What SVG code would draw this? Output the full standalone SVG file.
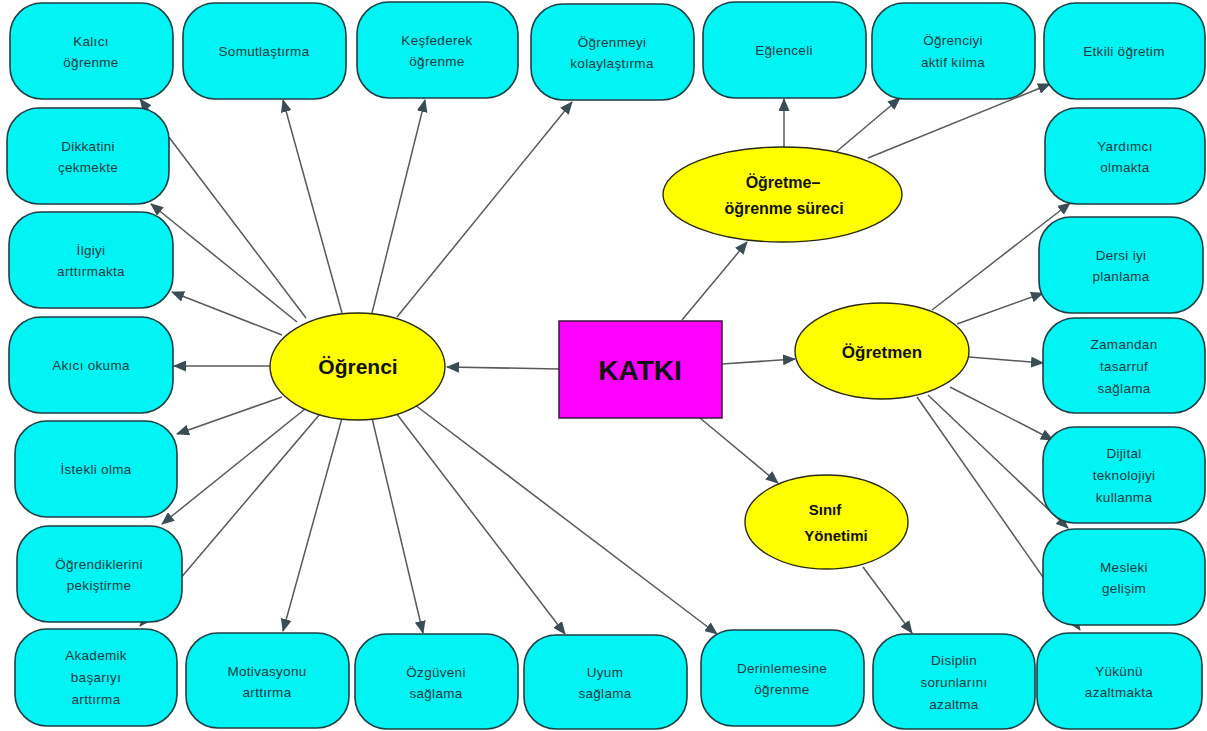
<svg xmlns="http://www.w3.org/2000/svg" width="1207" height="731" viewBox="0 0 1207 731">
<style>
.box{fill:#00f4f4;stroke:#1c3f44;stroke-width:1.6}
.ell{fill:#ffff00;stroke:#2a2a10;stroke-width:1.4}
.t{font-family:"Liberation Sans",Arial,sans-serif;font-size:13.5px;fill:#1f3c42;text-anchor:middle;letter-spacing:0.3px}
.b{font-family:"Liberation Sans",Arial,sans-serif;font-weight:bold;fill:#111;text-anchor:middle}
.c line{stroke:#555a5c;stroke-width:1.5;marker-end:url(#ah)}
</style>
<defs>
<marker id="ah" markerUnits="userSpaceOnUse" markerWidth="13" markerHeight="11" refX="12" refY="5.5" orient="auto">
<path d="M0,0 L13,5.5 L0,11 z" fill="#3a4d55"/>
</marker>
</defs>
<rect width="1207" height="731" fill="#ffffff"/>
<g id="connectors" class="c">
<line x1="559" y1="369" x2="447" y2="367"/>
<line x1="722" y1="364" x2="795" y2="359"/>
<line x1="682" y1="320" x2="747" y2="242"/>
<line x1="700" y1="418" x2="778" y2="483"/>
<line x1="784" y1="147" x2="784" y2="99"/>
<line x1="836" y1="152" x2="900" y2="98"/>
<line x1="868" y1="158" x2="1050" y2="84"/>
<line x1="932" y1="310" x2="1070" y2="203"/>
<line x1="957" y1="324" x2="1043" y2="293"/>
<line x1="969" y1="357" x2="1043" y2="363"/>
<line x1="950" y1="387" x2="1053" y2="440"/>
<line x1="928" y1="395" x2="1068" y2="528"/>
<line x1="917" y1="397" x2="1080" y2="630"/>
<line x1="863" y1="567" x2="912" y2="633"/>
<line x1="306" y1="318" x2="140" y2="99"/>
<line x1="342" y1="313" x2="283" y2="100"/>
<line x1="372" y1="313" x2="425" y2="100"/>
<line x1="397" y1="317" x2="572" y2="102"/>
<line x1="297" y1="322" x2="151" y2="204"/>
<line x1="282" y1="335" x2="172" y2="292"/>
<line x1="270" y1="366" x2="174" y2="366"/>
<line x1="282" y1="397" x2="177" y2="434"/>
<line x1="305" y1="409" x2="162" y2="524"/>
<line x1="320" y1="414" x2="140" y2="626"/>
<line x1="342" y1="418" x2="283" y2="631"/>
<line x1="372" y1="418" x2="423" y2="633"/>
<line x1="396" y1="413" x2="565" y2="634"/>
<line x1="415" y1="405" x2="717" y2="634"/>
</g>
<g id="n-kalici"><rect class="box" x="10" y="3" width="163" height="96" rx="32" ry="32"/><text class="t" x="91" y="46">Kalıcı</text><text class="t" x="91" y="67">öğrenme</text></g>
<g id="n-somut"><rect class="box" x="183" y="3" width="163" height="96" rx="32" ry="32"/><text class="t" x="264" y="56">Somutlaştırma</text></g>
<g id="n-kesf"><rect class="box" x="357" y="2" width="161" height="96" rx="32" ry="32"/><text class="t" x="437" y="45">Keşfederek</text><text class="t" x="437" y="66">öğrenme</text></g>
<g id="n-kolay"><rect class="box" x="531" y="4" width="163" height="96" rx="32" ry="32"/><text class="t" x="612" y="47">Öğrenmeyi</text><text class="t" x="612" y="68">kolaylaştırma</text></g>
<g id="n-eglence"><rect class="box" x="703" y="2" width="163" height="96" rx="32" ry="32"/><text class="t" x="784" y="55">Eğlenceli</text></g>
<g id="n-aktif"><rect class="box" x="872" y="3" width="163" height="96" rx="32" ry="32"/><text class="t" x="953" y="45">Öğrenciyi</text><text class="t" x="953" y="67">aktif kılma</text></g>
<g id="n-etkili"><rect class="box" x="1044" y="3" width="161" height="96" rx="32" ry="32"/><text class="t" x="1124" y="56">Etkili öğretim</text></g>
<g id="n-dikkat"><rect class="box" x="7" y="108" width="162" height="96" rx="32" ry="32"/><text class="t" x="88" y="151">Dikkatini</text><text class="t" x="88" y="172">çekmekte</text></g>
<g id="n-ilgi"><rect class="box" x="9" y="212" width="164" height="96" rx="32" ry="32"/><text class="t" x="91" y="255">İlgiyi</text><text class="t" x="91" y="276">arttırmakta</text></g>
<g id="n-akici"><rect class="box" x="9" y="317" width="164" height="96" rx="32" ry="32"/><text class="t" x="91" y="370">Akıcı okuma</text></g>
<g id="n-istekli"><rect class="box" x="15" y="421" width="162" height="96" rx="32" ry="32"/><text class="t" x="96" y="474">İstekli olma</text></g>
<g id="n-pekis"><rect class="box" x="17" y="526" width="165" height="96" rx="32" ry="32"/><text class="t" x="99" y="569">Öğrendiklerini</text><text class="t" x="99" y="590">pekiştirme</text></g>
<g id="n-akademik"><rect class="box" x="15" y="629" width="162" height="97" rx="32" ry="32"/><text class="t" x="96" y="660">Akademik</text><text class="t" x="96" y="682">başarıyı</text><text class="t" x="96" y="704">arttırma</text></g>
<g id="n-motiv"><rect class="box" x="186" y="633" width="163" height="95" rx="32" ry="32"/><text class="t" x="267" y="676">Motivasyonu</text><text class="t" x="267" y="697">arttırma</text></g>
<g id="n-ozguven"><rect class="box" x="355" y="634" width="163" height="95" rx="32" ry="32"/><text class="t" x="436" y="677">Özgüveni</text><text class="t" x="436" y="698">sağlama</text></g>
<g id="n-uyum"><rect class="box" x="524" y="635" width="163" height="94" rx="32" ry="32"/><text class="t" x="605" y="677">Uyum</text><text class="t" x="605" y="698">sağlama</text></g>
<g id="n-derin"><rect class="box" x="701" y="630" width="163" height="96" rx="32" ry="32"/><text class="t" x="782" y="673">Derinlemesine</text><text class="t" x="782" y="694">öğrenme</text></g>
<g id="n-disiplin"><rect class="box" x="873" y="634" width="162" height="95" rx="32" ry="32"/><text class="t" x="954" y="665">Disiplin</text><text class="t" x="954" y="687">sorunlarını</text><text class="t" x="954" y="709">azaltma</text></g>
<g id="n-yuk"><rect class="box" x="1037" y="633" width="165" height="96" rx="32" ry="32"/><text class="t" x="1119" y="676">Yükünü</text><text class="t" x="1119" y="697">azaltmakta</text></g>
<g id="n-yardim"><rect class="box" x="1045" y="108" width="160" height="96" rx="32" ry="32"/><text class="t" x="1125" y="151">Yardımcı</text><text class="t" x="1125" y="172">olmakta</text></g>
<g id="n-dersi"><rect class="box" x="1039" y="217" width="164" height="96" rx="32" ry="32"/><text class="t" x="1121" y="260">Dersi iyi</text><text class="t" x="1121" y="281">planlama</text></g>
<g id="n-zaman"><rect class="box" x="1043" y="318" width="162" height="95" rx="32" ry="32"/><text class="t" x="1124" y="349">Zamandan</text><text class="t" x="1124" y="371">tasarruf</text><text class="t" x="1124" y="393">sağlama</text></g>
<g id="n-dijital"><rect class="box" x="1043" y="427" width="162" height="96" rx="32" ry="32"/><text class="t" x="1124" y="458">Dijital</text><text class="t" x="1124" y="480">teknolojiyi</text><text class="t" x="1124" y="502">kullanma</text></g>
<g id="n-mesleki"><rect class="box" x="1043" y="529" width="162" height="96" rx="32" ry="32"/><text class="t" x="1124" y="572">Mesleki</text><text class="t" x="1124" y="593">gelişim</text></g>
<g id="n-ogrenci"><ellipse class="ell" cx="357.5" cy="366.5" rx="87.5" ry="53.5"/><text class="b" x="358" y="374" font-size="21">Öğrenci</text></g>
<g id="n-katki"><rect x="559" y="321" width="163" height="97" fill="#ff00ff" stroke="#3a1a3a" stroke-width="1.5"/><text class="b" x="640" y="380" font-size="28" fill="#330033">KATKI</text></g>
<g id="n-ogretmen"><ellipse class="ell" cx="882" cy="351" rx="87" ry="48"/><text class="b" x="882" y="358" font-size="17">Öğretmen</text></g>
<g id="n-surec"><ellipse class="ell" cx="782.5" cy="194.5" rx="119.5" ry="47.5"/><text class="b" x="783" y="188" font-size="16">Öğretme–</text><text class="b" x="784" y="214" font-size="16">öğrenme süreci</text></g>
<g id="n-sinif"><ellipse class="ell" cx="826.5" cy="522" rx="81.5" ry="47"/><text class="b" x="825" y="515" font-size="15">Sınıf</text><text class="b" x="836" y="541" font-size="15">Yönetimi</text></g>
</svg>
